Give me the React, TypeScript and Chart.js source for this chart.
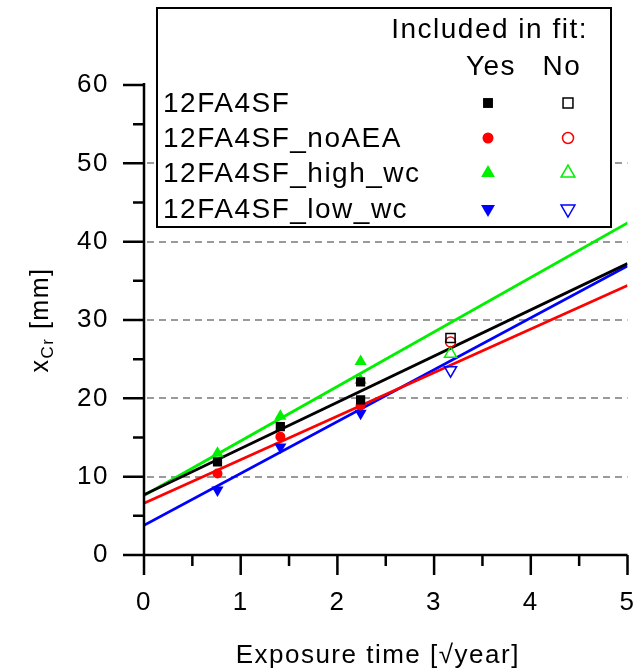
import React, { useEffect, useRef } from 'react';
import { Chart, registerables } from 'chart.js';

Chart.register(...registerables);

// ---- data ----
const seriesNames = ['12FA4SF', '12FA4SF_noAEA', '12FA4SF_high_wc', '12FA4SF_low_wc'];
const seriesColors = ['#000000', '#ff0000', '#00f000', '#0000ff'];
const pointStyles = ['rect', 'circle', 'triangle', 'triangle'];
const pointRotations = [0, 0, 0, 180];

// points included in fit (x = sqrt(year), y = x_Cr mm)
const inclX_12FA4SF = [0.76, 1.41, 2.24, 2.24];
const inclY_12FA4SF = [11.9, 16.4, 22.1, 19.8];
const inclX_noAEA = [0.76, 1.41, 2.24];
const inclY_noAEA = [10.4, 15.1, 19.1];
const inclX_high = [0.76, 1.41, 2.24, 2.24];
const inclY_high = [13.0, 17.7, 24.7, 22.3];
const inclX_low = [0.76, 1.41, 2.24];
const inclY_low = [8.3, 13.8, 18.1];

// points not included in fit
const exclX_12FA4SF = [3.17];
const exclY_12FA4SF = [27.7];
const exclX_noAEA = [3.17];
const exclY_noAEA = [27.2];
const exclX_high = [3.17];
const exclY_high = [25.7];
const exclX_low = [3.17];
const exclY_low = [23.6];

// linear fits (value at x = 0 and x = 5)
const fitX = [0, 5];
const fitStart = [7.7, 6.6, 7.6, 3.8];
const fitEnd = [37.2, 34.4, 42.4, 36.9];

// axes
const xMajorTicks = [0, 1, 2, 3, 4, 5];
const xMinorTicks = [0.5, 1.5, 2.5, 3.5, 4.5];
const yMajorTicks = [0, 10, 20, 30, 40, 50, 60];
const yMinorTicks = [5, 15, 25, 35, 45, 55];
const yGridValues = [10, 20, 30, 40, 50];

const xTitle = 'Exposure time [\u221Ayear]';
const yTitleMain = 'x';
const yTitleSub = 'Cr';
const yTitleRest = ' [mm]';
const legendHeader = 'Included in fit:';
const legendYes = 'Yes';
const legendNo = 'No';

const FONT = '"Liberation Sans", Arial, sans-serif';

const inclXs = [inclX_12FA4SF, inclX_noAEA, inclX_high, inclX_low];
const inclYs = [inclY_12FA4SF, inclY_noAEA, inclY_high, inclY_low];
const exclXs = [exclX_12FA4SF, exclX_noAEA, exclX_high, exclX_low];
const exclYs = [exclY_12FA4SF, exclY_noAEA, exclY_high, exclY_low];

const toPts = (xs: number[], ys: number[]) => xs.map((x, i) => ({ x, y: ys[i] }));

function drawMarker(ctx: CanvasRenderingContext2D, style: string, rot: number, x: number, y: number, r: number, color: string, filled: boolean) {
  ctx.save();
  ctx.beginPath();
  if (style === 'rect') {
    const s = Math.SQRT1_2 * r;
    ctx.rect(x - s, y - s, 2 * s, 2 * s);
  } else if (style === 'circle') {
    ctx.arc(x, y, r, 0, Math.PI * 2);
  } else {
    let a = (rot * Math.PI) / 180;
    ctx.moveTo(x + Math.sin(a) * r, y - Math.cos(a) * r);
    a += (2 * Math.PI) / 3;
    ctx.lineTo(x + Math.sin(a) * r, y - Math.cos(a) * r);
    a += (2 * Math.PI) / 3;
    ctx.lineTo(x + Math.sin(a) * r, y - Math.cos(a) * r);
    ctx.closePath();
  }
  if (filled) {
    ctx.fillStyle = color;
    ctx.fill();
  } else {
    ctx.strokeStyle = color;
    ctx.lineWidth = 1.5;
    ctx.stroke();
  }
  ctx.restore();
}

const customPlugin = {
  id: 'customDecor',
  beforeLayout(chart: any) {
    chart.ctx.letterSpacing = '1.5px';
  },
  beforeDraw(chart: any) {
    chart.ctx.letterSpacing = '1.5px';
  },
  beforeDatasetsDraw(chart: any) {
    const { ctx, chartArea, scales } = chart;
    const y = scales.y;
    ctx.save();
    ctx.strokeStyle = '#9a9a9a';
    ctx.lineWidth = 2;
    ctx.setLineDash([7, 5]);
    for (const v of yGridValues) {
      const py = Math.round(y.getPixelForValue(v));
      ctx.beginPath();
      ctx.moveTo(chartArea.left + 3, py);
      ctx.lineTo(chartArea.right, py);
      ctx.stroke();
    }
    ctx.restore();
  },
  afterDraw(chart: any) {
    const { ctx, chartArea, scales } = chart;
    const xs = scales.x;
    const ys = scales.y;
    const left = chartArea.left;
    const bottom = chartArea.bottom;
    ctx.save();
    ctx.letterSpacing = '1.5px';
    ctx.strokeStyle = '#000';
    ctx.lineWidth = 2.5;
    ctx.lineCap = 'butt';
    // axes lines
    ctx.beginPath();
    ctx.moveTo(left, chartArea.top - 2);
    ctx.lineTo(left, bottom);
    ctx.moveTo(left, bottom);
    ctx.lineTo(chartArea.right, bottom);
    ctx.stroke();
    // ticks
    ctx.beginPath();
    for (const v of yMajorTicks) {
      const py = ys.getPixelForValue(v);
      ctx.moveTo(left - 21, py);
      ctx.lineTo(left, py);
    }
    for (const v of yMinorTicks) {
      const py = ys.getPixelForValue(v);
      ctx.moveTo(left - 11, py);
      ctx.lineTo(left, py);
    }
    for (const v of xMajorTicks) {
      const px = xs.getPixelForValue(v);
      ctx.moveTo(px, bottom);
      ctx.lineTo(px, bottom + 20);
    }
    for (const v of xMinorTicks) {
      const px = xs.getPixelForValue(v);
      ctx.moveTo(px, bottom);
      ctx.lineTo(px, bottom + 11);
    }
    ctx.stroke();

    // x title
    ctx.fillStyle = '#000';
    ctx.font = `26px ${FONT}`;
    ctx.textAlign = 'center';
    ctx.textBaseline = 'alphabetic';
    ctx.fillText(xTitle, (left + chartArea.right) / 2 - 8, 663);

    // y title with subscript
    ctx.save();
    ctx.translate(48, (chartArea.top + chartArea.bottom) / 2);
    ctx.rotate(-Math.PI / 2);
    ctx.textAlign = 'left';
    const big = `25px ${FONT}`;
    const small = `17px ${FONT}`;
    ctx.font = big;
    const w1 = ctx.measureText(yTitleMain).width;
    const w3 = ctx.measureText(yTitleRest).width;
    ctx.font = small;
    const w2 = ctx.measureText(yTitleSub).width;
    let cx = -(w1 + w2 + w3) / 2;
    ctx.font = big;
    ctx.fillText(yTitleMain, cx, 0);
    cx += w1;
    ctx.font = small;
    ctx.fillText(yTitleSub, cx, 5);
    cx += w2;
    ctx.font = big;
    ctx.fillText(yTitleRest, cx, 0);
    ctx.restore();

    // legend box
    const bx = 157, by = 8, bw = 454, bh = 219;
    ctx.fillStyle = '#fff';
    ctx.fillRect(bx, by, bw, bh);
    ctx.lineWidth = 2;
    ctx.strokeStyle = '#000';
    ctx.strokeRect(bx, by, bw, bh);
    ctx.fillStyle = '#000';
    ctx.font = `28px ${FONT}`;
    ctx.textAlign = 'right';
    ctx.fillText(legendHeader, 588, 38);
    ctx.textAlign = 'center';
    ctx.fillText(legendYes, 491, 75);
    ctx.fillText(legendNo, 562, 75);
    const baselines = [112, 147, 182, 218];
    ctx.textAlign = 'left';
    seriesNames.forEach((name, i) => {
      ctx.fillStyle = '#000';
      ctx.fillText(name, 163, baselines[i]);
      const my = baselines[i] - 9;
      const r = pointStyles[i] === 'rect' ? 7 : pointStyles[i] === 'circle' ? 5.5 : 8;
      drawMarker(ctx, pointStyles[i], pointRotations[i], 488, my, r, seriesColors[i], true);
      drawMarker(ctx, pointStyles[i], pointRotations[i], 568, my, r, seriesColors[i], false);
    });
    ctx.restore();
  },
};

export default function App() {
  const canvasRef = useRef<HTMLCanvasElement | null>(null);

  useEffect(() => {
    document.body.style.margin = '0';
    const canvas = canvasRef.current;
    if (!canvas) return;

    const datasets: any[] = [];
    seriesNames.forEach((name, i) => {
      const r = pointStyles[i] === 'rect' ? 6.5 : pointStyles[i] === 'circle' ? 5 : 7;
      datasets.push({
        type: 'line',
        label: name + ' fit',
        data: fitX.map((x, k) => ({ x, y: k === 0 ? fitStart[i] : fitEnd[i] })),
        borderColor: seriesColors[i],
        borderWidth: 2.8,
        pointRadius: 0,
        fill: false,
        order: 2,
      });
      datasets.push({
        type: 'scatter',
        label: name,
        data: toPts(inclXs[i], inclYs[i]),
        pointStyle: pointStyles[i],
        rotation: pointRotations[i],
        pointRadius: r,
        backgroundColor: seriesColors[i],
        borderColor: seriesColors[i],
        borderWidth: 0,
        order: 1,
      });
      datasets.push({
        type: 'scatter',
        label: name + ' (not in fit)',
        data: toPts(exclXs[i], exclYs[i]),
        pointStyle: pointStyles[i],
        rotation: pointRotations[i],
        pointRadius: r,
        backgroundColor: 'rgba(0,0,0,0)',
        borderColor: seriesColors[i],
        borderWidth: 1.5,
        order: 1,
      });
    });

    const chart = new Chart(canvas, {
      type: 'scatter',
      data: { datasets },
      options: {
        animation: false,
        responsive: false,
        maintainAspectRatio: false,
        layout: { padding: { left: 0, top: 85, right: 8, bottom: 0 } },
        plugins: {
          legend: { display: false },
          tooltip: { enabled: false },
        },
        scales: {
          x: {
            type: 'linear',
            min: 0,
            max: 5,
            grid: {
              display: true,
              drawOnChartArea: false,
              drawTicks: true,
              tickLength: 32,
              tickColor: 'rgba(0,0,0,0)',
              color: 'rgba(0,0,0,0)',
            },
            border: { display: false },
            ticks: {
              stepSize: 1,
              color: '#000',
              font: { family: FONT, size: 26 },
              padding: 0,
              maxRotation: 0,
              autoSkip: false,
            },
            afterFit: (scale: any) => {
              scale.height = 116;
            },
          },
          y: {
            type: 'linear',
            min: 0,
            max: 60,
            grid: {
              display: true,
              drawOnChartArea: false,
              drawTicks: true,
              tickLength: 35,
              tickColor: 'rgba(0,0,0,0)',
              color: 'rgba(0,0,0,0)',
            },
            border: { display: false },
            ticks: {
              stepSize: 10,
              color: '#000',
              font: { family: FONT, size: 26 },
              padding: 0,
            },
            afterFit: (scale: any) => {
              scale.width = 144;
            },
          },
        },
      },
      plugins: [customPlugin],
    } as any);

    return () => chart.destroy();
  }, []);

  return (
    <div style={{ width: 636, height: 671 }}>
      <canvas ref={canvasRef} width={636} height={671} style={{ display: 'block' }} />
    </div>
  );
}
